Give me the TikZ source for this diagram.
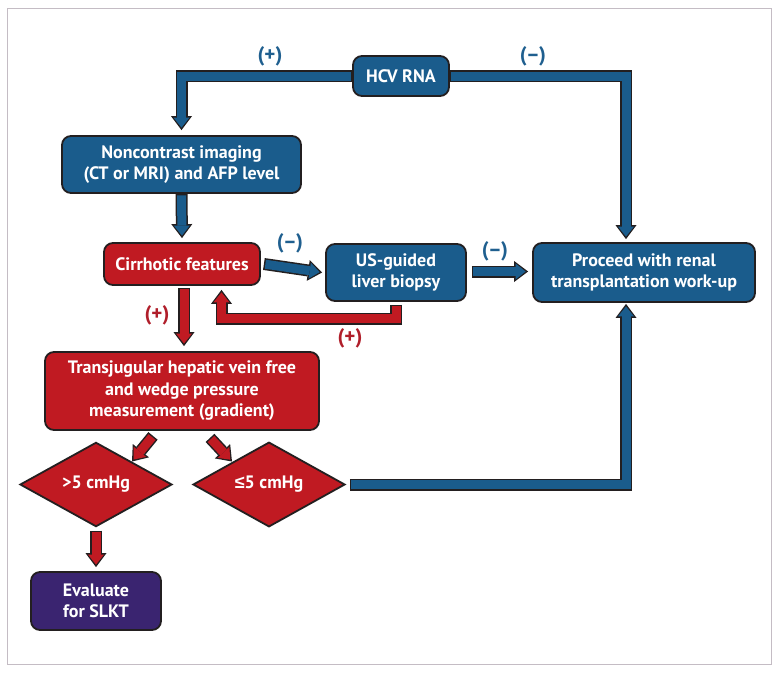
\documentclass[tikz,border=0pt]{standalone}
\usepackage{fontspec}
\setmainfont{PT Sans}
\newfontfamily\symfont{Liberation Sans}
\usetikzlibrary{arrows.meta,shapes.geometric,calc}
\definecolor{bfill}{HTML}{1A5C8C}
\definecolor{rfill}{HTML}{C01A22}
\definecolor{pfill}{HTML}{3A2470}
\definecolor{edge}{HTML}{231F20}
\definecolor{blab}{HTML}{1F5F8F}
\definecolor{rlab}{HTML}{B01E2A}
\definecolor{framec}{HTML}{C4BCC4}
\tikzset{
  box/.style={rounded corners=9pt, draw=edge, line width=1.8pt, text=white,
    font=\fontsize{18}{21.5}\selectfont\bfseries, align=center, inner sep=0pt},
  bbox/.style={box, fill=bfill},
  rbox/.style={box, fill=rfill},
  pbox/.style={box, fill=pfill},
  dia/.style={diamond, draw=edge, line width=1.8pt, fill=rfill, text=white,
    font=\fontsize{18}{21}\selectfont\bfseries, inner sep=0pt,
    minimum width=152pt, minimum height=75pt},
  arr/.style={line width=9pt, draw=#1, line cap=butt, line join=miter,
    shorten <=1.5pt, shorten >=2.5pt,
    -{Triangle[width=16pt,length=10pt,line width=0pt]},
    preaction={draw=edge, line width=12pt, shorten <=0pt, shorten >=0pt,
      -{Triangle[width=21pt,length=14pt,line width=0pt]}}},
  lab/.style={font=\fontsize{21}{22}\selectfont\bfseries, inner sep=0pt},
}
\begin{document}
\begin{tikzpicture}[x=1pt,y=-1pt]
\useasboundingbox (0,0) rectangle (781,673);
\draw[framec, line width=1pt] (7.5,8.5) rectangle (771.5,664.5);

\node[bbox, minimum width=96pt, minimum height=40pt] (hcv) at (401,76) {HCV RNA};
\node[bbox, minimum width=239pt, minimum height=57pt] (nc) at (181.5,164.5)
  {Noncontrast imaging\\(CT or MRI) and AFP level};
\node[rbox, minimum width=156pt, minimum height=42pt] (cf) at (182,264) {Cirrhotic features};
\node[bbox, minimum width=140pt, minimum height=57pt] (us) at (396,272.5) {US-guided\\liver biopsy};
\node[bbox, minimum width=222pt, minimum height=59pt] (pr) at (644,272.5)
  {Proceed with renal\\transplantation work-up};
\node[rbox, minimum width=274pt, minimum height=78pt] (tj) at (182,391)
  {Transjugular hepatic vein free\\and wedge pressure\\measurement (gradient)};
\node[dia] (d1) at (96,484.5) {>5 cmHg};
\node[dia] (d2) at (269,484.5) {{\symfont\bfseries ≤}5 cmHg};
\node[pbox, minimum width=130pt, minimum height=58pt] (ev) at (96,601) {Evaluate\\for SLKT};

\draw[arr=bfill] (hcv.west) -| ([yshift=5pt]nc.north);
\draw[arr=bfill] (hcv.east) -| ([xshift=-18pt,yshift=3pt]pr.north);
\draw[arr=bfill] (nc.south) -- ([yshift=4pt]cf.north);
\draw[arr=bfill] ([xshift=3pt]cf.east) -- ([xshift=-3pt]us.west);
\draw[arr=bfill] ([xshift=5pt,yshift=1pt]us.east) -- ([xshift=-4pt,yshift=1pt]pr.west);
\draw[arr=rfill] ([yshift=-3pt]us.south) -- ++(0,14) -| ([xshift=39.5pt,yshift=-4pt]cf.south);
\draw[arr=rfill] ([xshift=2pt,yshift=-2pt]cf.south) -- ([xshift=2pt,yshift=5pt]tj.north);
\draw[arr=rfill] ([xshift=-29pt,yshift=-5pt]tj.south) -- ([xshift=36pt,yshift=23pt]d1.center);
\draw[arr=rfill] ([xshift=28pt,yshift=-7pt]tj.south) -- ([xshift=-37pt,yshift=23pt]d2.center);
\draw[arr=rfill] ([yshift=-3pt]d1.south) -- ([yshift=4pt]ev.north);
\draw[arr=bfill] ([xshift=4pt]d2.east) -| ([xshift=-18pt,yshift=-1pt]pr.south);

\node[lab, text=blab] (l1) at (270,56) {(+)};
\node[lab, text=blab] (l2) at (533,56) {(–)};
\node[lab, text=blab] (l3) at (290,243) {(–)};
\node[lab, text=blab] (l4) at (495,251) {(–)};
\node[lab, text=rlab] (l5) at (157,315) {(+)};
\node[lab, text=rlab] (l6) at (350,338) {(+)};
\end{tikzpicture}
\end{document}
